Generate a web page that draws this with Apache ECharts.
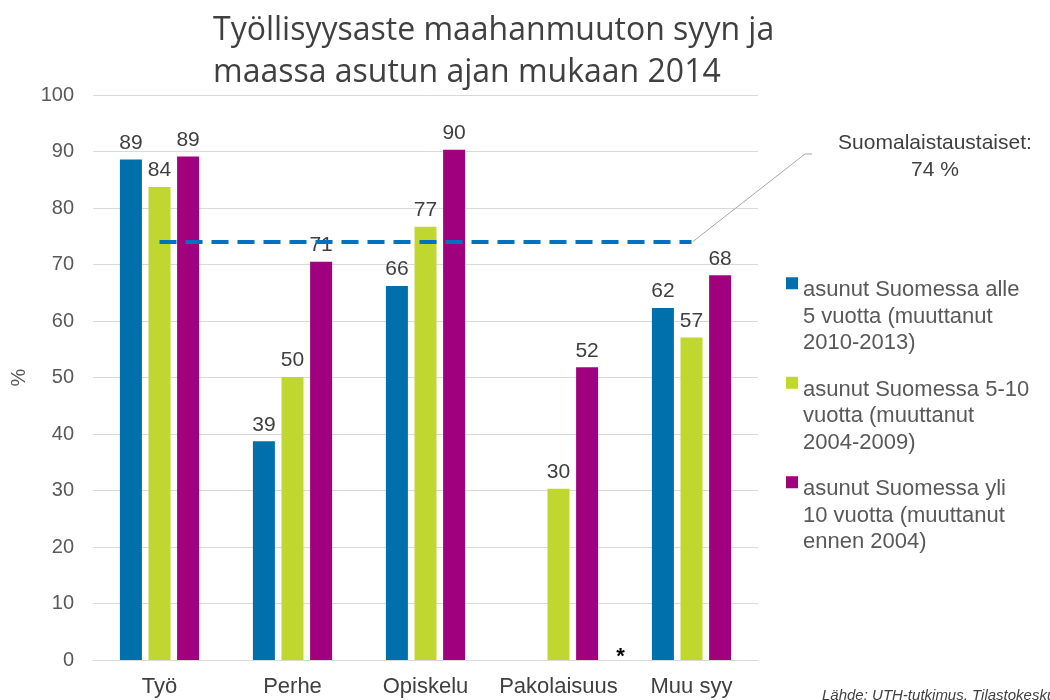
<!DOCTYPE html>
<html>
<head>
<meta charset="utf-8">
<script src="https://cdn.jsdelivr.net/npm/echarts@6/dist/echarts.min.js"></script>
<style>
  html, body { margin: 0; padding: 0; background: #fff; }
  #main { width: 1050px; height: 700px; }
</style>
</head>
<body>
<div id="main"></div>
<script>
// kategoriat ja sarjat
var categories = ['Työ', 'Perhe', 'Opiskelu', 'Pakolaisuus', 'Muu syy'];
var seriesNames = [
  'asunut Suomessa alle\n5 vuotta (muuttanut\n2010-2013)',
  'asunut Suomessa 5-10\nvuotta (muuttanut\n2004-2009)',
  'asunut Suomessa yli\n10 vuotta (muuttanut\nennen 2004)'
];
var alle5 = [88.6, 38.7, 66.2, null, 62.3];
var vuotta5_10 = [83.7, 50.1, 76.7, 30.3, 57.1];
var yli10 = [89.1, 70.5, 90.3, 51.8, 68.1];
var suomalaistaustaiset = 74;
var yTicks = [0, 10, 20, 30, 40, 50, 60, 70, 80, 90, 100];

var colors = ['#0070AD', '#C0D72F', '#A0007E'];
var font = 'Liberation Sans, Arial, sans-serif';
// legendan ikoni: neliö ylälaidassa, pieni piste pohjalla pitää korkeuden
var legendIcon = 'path://M0,0h12v12h-12zM0,79h0.01v0.01h-0.01z';

var myChart = echarts.init(document.getElementById('main'));

function barSeries(i, data) {
  return {
    name: seriesNames[i],
    type: 'bar',
    data: data,
    barWidth: 22,
    barGap: '30%',
    itemStyle: { color: colors[i] },
    label: {
      show: true,
      position: 'top',
      distance: 6,
      color: '#404040',
      fontSize: 21,
      fontFamily: font,
      formatter: function (p) { return Math.round(p.value); }
    }
  };
}

var series = [barSeries(0, alle5), barSeries(1, vuotta5_10), barSeries(2, yli10)];
// keskimmäinen sarja -> viiva kulkee kategorioiden keskeltä
series[1].markLine = {
  silent: true,
  symbol: 'none',
  z: 10,
  label: { show: false },
  lineStyle: { color: '#0070C0', width: 4, type: [17, 9], opacity: 1 },
  data: [[
    { coord: [categories[0], suomalaistaustaiset] },
    { coord: [categories[categories.length - 1], suomalaistaustaiset] }
  ]]
};

myChart.setOption({
  animation: false,
  title: {
    text: 'Työllisyysaste maahanmuuton syyn ja\nmaassa asutun ajan mukaan 2014',
    left: 208,
    top: 5,
    textStyle: {
      color: '#404040',
      fontSize: 32,
      fontWeight: 'normal',
      fontFamily: 'Open Sans, sans-serif',
      lineHeight: 42
    }
  },
  legend: {
    orient: 'vertical',
    left: 781,
    top: 272,
    itemGap: 20,
    itemWidth: 12,
    itemHeight: 80,
    icon: legendIcon,
    selectedMode: false,
    data: seriesNames,
    textStyle: {
      color: '#595959',
      fontSize: 22,
      lineHeight: 26.5,
      fontFamily: font
    }
  },
  grid: {
    left: 93,
    right: 292,
    top: 95,
    bottom: 40,
    containLabel: false
  },
  xAxis: {
    type: 'category',
    data: categories,
    axisTick: { show: false },
    axisLine: { show: true, lineStyle: { color: '#D9D9D9' } },
    axisLabel: { color: '#404040', fontSize: 22, fontFamily: font, margin: 16, interval: 0 }
  },
  yAxis: {
    type: 'value',
    min: yTicks[0],
    max: yTicks[yTicks.length - 1],
    interval: 10,
    name: '%',
    nameLocation: 'middle',
    nameGap: 62,
    nameTextStyle: { color: '#595959', fontSize: 20, fontFamily: font },
    axisLine: { show: false },
    axisTick: { show: false },
    axisLabel: { color: '#595959', fontSize: 20, fontFamily: font, margin: 19 },
    splitLine: { lineStyle: { color: '#D9D9D9', width: 1 } }
  },
  series: series
});

// selitysviiva ja tähti lasketaan akseleiden kautta
var lineStart = myChart.convertToPixel({ gridIndex: 0 }, [categories[categories.length - 1], suomalaistaustaiset]);
var pakoX = myChart.convertToPixel({ xAxisIndex: 0 }, categories[3]);
var zeroY = myChart.convertToPixel({ yAxisIndex: 0 }, 0);

myChart.setOption({
  graphic: [
    {
      type: 'polyline',
      z: 5,
      shape: { points: [[lineStart[0] + 1, lineStart[1]], [805, 154], [812, 154]] },
      style: { stroke: '#A6A6A6', lineWidth: 1, fill: null }
    },
    {
      type: 'text',
      x: 935,
      y: 130,
      style: {
        text: 'Suomalaistaustaiset:\n74 %',
        align: 'center',
        fill: '#404040',
        font: '21px ' + font,
        lineHeight: 27
      }
    },
    {
      type: 'text',
      x: pakoX + 62,
      y: zeroY - 14,
      style: {
        text: '*',
        align: 'center',
        fill: '#000',
        font: 'bold 22px ' + font
      }
    },
    {
      type: 'text',
      left: 822,
      top: 688,
      style: {
        text: 'Lähde: UTH-tutkimus, Tilastokeskus',
        fill: '#404040',
        font: 'italic 15px ' + font
      }
    }
  ]
});
</script>
</body>
</html>
